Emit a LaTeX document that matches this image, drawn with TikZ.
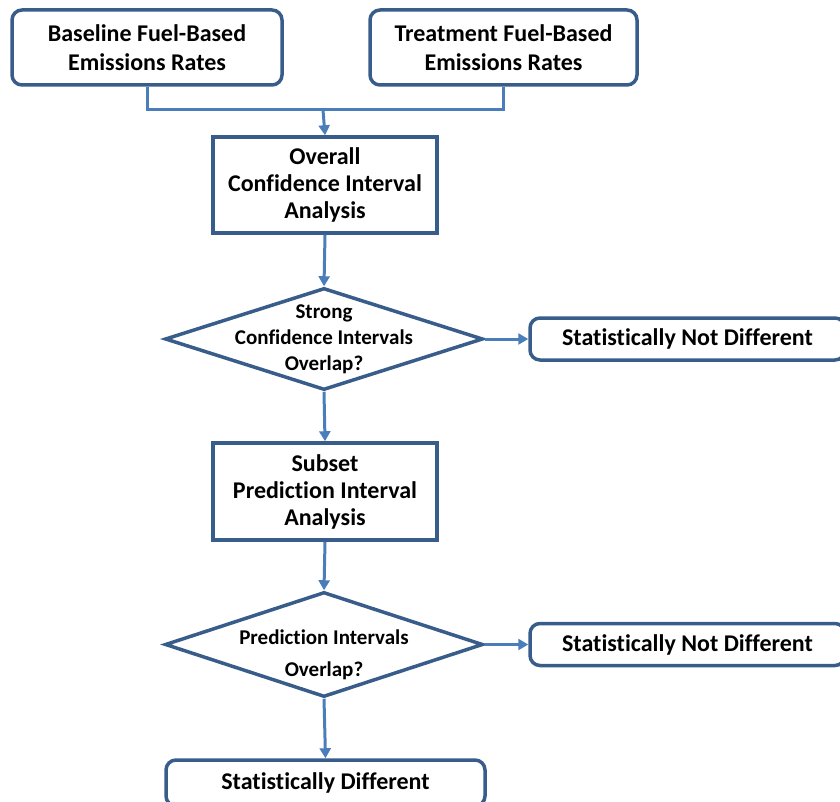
\documentclass[tikz,border=0pt]{standalone}
\usepackage{fontspec}
\setmainfont{Carlito}[Ligatures={NoCommon,TeX}]
\usepackage{tikz}
\usetikzlibrary{shapes.geometric,arrows.meta}
\definecolor{boxblue}{RGB}{56,93,138}
\definecolor{lineblue}{RGB}{74,126,187}
\tikzset{
  >={Triangle[width=11pt,length=10pt]},
}
\tikzstyle{every node}=[font=\bfseries\fontsize{24}{29}\selectfont]
\tikzstyle{inbox}=[draw=boxblue,line width=3.5pt,rounded corners=10pt,align=center,inner sep=0pt]
\tikzstyle{stepbox}=[draw=boxblue,line width=3.5pt,align=center,inner sep=0pt,minimum width=224pt,font=\bfseries\fontsize{24}{27}\selectfont]
\tikzstyle{decision}=[draw=boxblue,line width=3.5pt,diamond,inner sep=0pt,minimum width=318pt]
\tikzstyle{dtext}=[align=center,font=\bfseries\fontsize{21}{26}\selectfont]
\tikzstyle{outbox}=[inbox,minimum width=315pt,minimum height=42pt]
\tikzstyle{flow}=[lineblue,line width=3pt]

\begin{document}
\begin{tikzpicture}[x=1pt,y=-1pt]
    \clip (0,0) rectangle (840,802);
    \node[inbox,minimum width=270pt,minimum height=75pt] (base) at (147,47.5) {Baseline Fuel-Based\\Emissions Rates};
    \node[inbox,minimum width=267pt,minimum height=75pt] (treat) at (503.5,47.5) {Treatment Fuel-Based\\Emissions Rates};
    \node[stepbox,minimum height=96pt] (overall) at (325,185) {Overall\\Confidence Interval\\Analysis};
    \node[decision,minimum height=102pt] (strong) at (324,339) {};
    \node[dtext] (strongtext) at (324,339) {Strong\\Confidence Intervals\\Overlap?};
    \node[outbox] (notdiff1) at (687.5,339) {Statistically Not Different};
    \node[stepbox,minimum height=97pt] (subset) at (325,491.5) {Subset\\Prediction Interval\\Analysis};
    \node[decision,minimum height=105pt] (pred) at (324,644.5) {};
    \node[dtext,font=\bfseries\fontsize{21}{32}\selectfont] (predtext) at (324,655) {Prediction Intervals\\Overlap?};
    \node[outbox] (notdiff2) at (687.5,644.5) {Statistically Not Different};
    \node[inbox,minimum width=319pt,minimum height=46pt] (diff) at (325.5,783) {Statistically Different};
    \coordinate (join) at (323,110);
    \draw[flow] (base.south) |- (join) -| (treat.south);
    \draw[flow,->] (join) -- (overall.north);
    \draw[flow,->] (overall.south) -- (strong.north);
    \draw[flow,->] (strong.east) -- (notdiff1.west);
    \draw[flow,->] (strong.south) -- (subset.north);
    \draw[flow,->] (subset.south) -- (pred.north);
    \draw[flow,->] (pred.east) -- (notdiff2.west);
    \draw[flow,->] (pred.south) -- (diff.north);
  \end{tikzpicture}
\end{document}
